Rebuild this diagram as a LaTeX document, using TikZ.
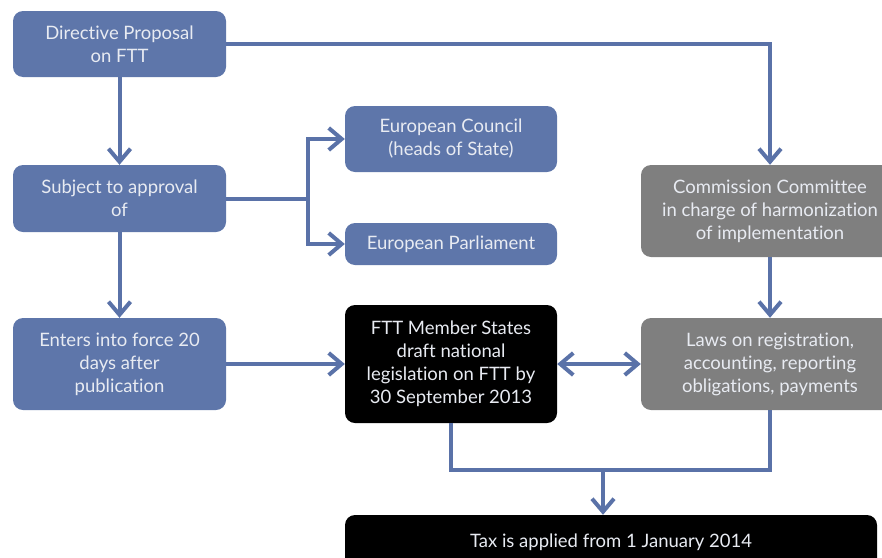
\documentclass[tikz,border=0pt]{standalone}
\usepackage{fontspec}
\setmainfont{Lato}[Ligatures=NoCommon]
\usetikzlibrary{arrows.meta}
\definecolor{stepblue}{HTML}{5E76AA}
\definecolor{linkblue}{HTML}{5A72A8}
\definecolor{stepgrey}{HTML}{7F7F7F}
\definecolor{pale}{HTML}{E8EBF2}

\begin{document}
\begin{tikzpicture}[x=1pt,y=-1pt,
	box/.style={rounded corners=10pt, align=center, text=pale, inner sep=0pt,
		font=\fontsize{18.5}{23}\selectfont},
	bluebox/.style={box, fill=stepblue},
	greybox/.style={box, fill=stepgrey},
	darkbox/.style={box, fill=black},
	link/.style={draw=linkblue, line width=4pt,
		-{Straight Barb[length=13pt,width=22pt]}}]
	\useasboundingbox (0,0) rectangle (882,557);
	% left column
	\node[bluebox, minimum width=213, minimum height=66] (proposal) at (119.5,44) {Directive Proposal\\on FTT};
	\node[bluebox, minimum width=213, minimum height=67] (approval) at (119.5,198.5) {Subject to approval\\of};
	\node[bluebox, minimum width=213, minimum height=92] (force) at (119.5,364) {Enters into force 20\\days after\\publication};
	% middle column
	\node[bluebox, minimum width=212, minimum height=66] (council) at (451,139) {European Council\\(heads of State)};
	\node[bluebox, minimum width=212, minimum height=42] (parliament) at (451,244) {European Parliament};
	\node[darkbox, minimum width=212, minimum height=118] (states) at (451,364) {FTT Member States\\draft national\\legislation on FTT by\\30 September 2013};
	% right column
	\node[greybox, minimum width=258, minimum height=92] (committee) at (770,211) {Commission Committee\\in charge of harmonization\\of implementation};
	\node[greybox, minimum width=258, minimum height=92] (laws) at (770,364) {Laws on registration,\\accounting, reporting\\obligations, payments};
	\node[darkbox, minimum width=532, minimum height=54] (tax) at (611,542) {Tax is applied from 1 January 2014};
	% connectors
	\coordinate (split) at (308,198.5);
	\coordinate (join) at (603,470);
	\draw[link] (proposal.east) -| (committee.north);
	\draw[link] (proposal) -- (approval);
	\draw[link] (approval) -- (force);
	\draw[link,-] (approval.east) -- (split);
	\draw[link] (split) |- (council.west);
	\draw[link] (split) |- (parliament.west);
	\draw[link] (force) -- (states);
	\draw[link,{Straight Barb[length=13pt,width=22pt]}-{Straight Barb[length=13pt,width=22pt]}] (states) -- (laws);
	\draw[link] (committee) -- (laws);
	\draw[link,-] (states.south) |- (laws.south |- join) -- (laws.south);
	\draw[link] (join) -- (join |- tax.north);
\end{tikzpicture}
\end{document}
